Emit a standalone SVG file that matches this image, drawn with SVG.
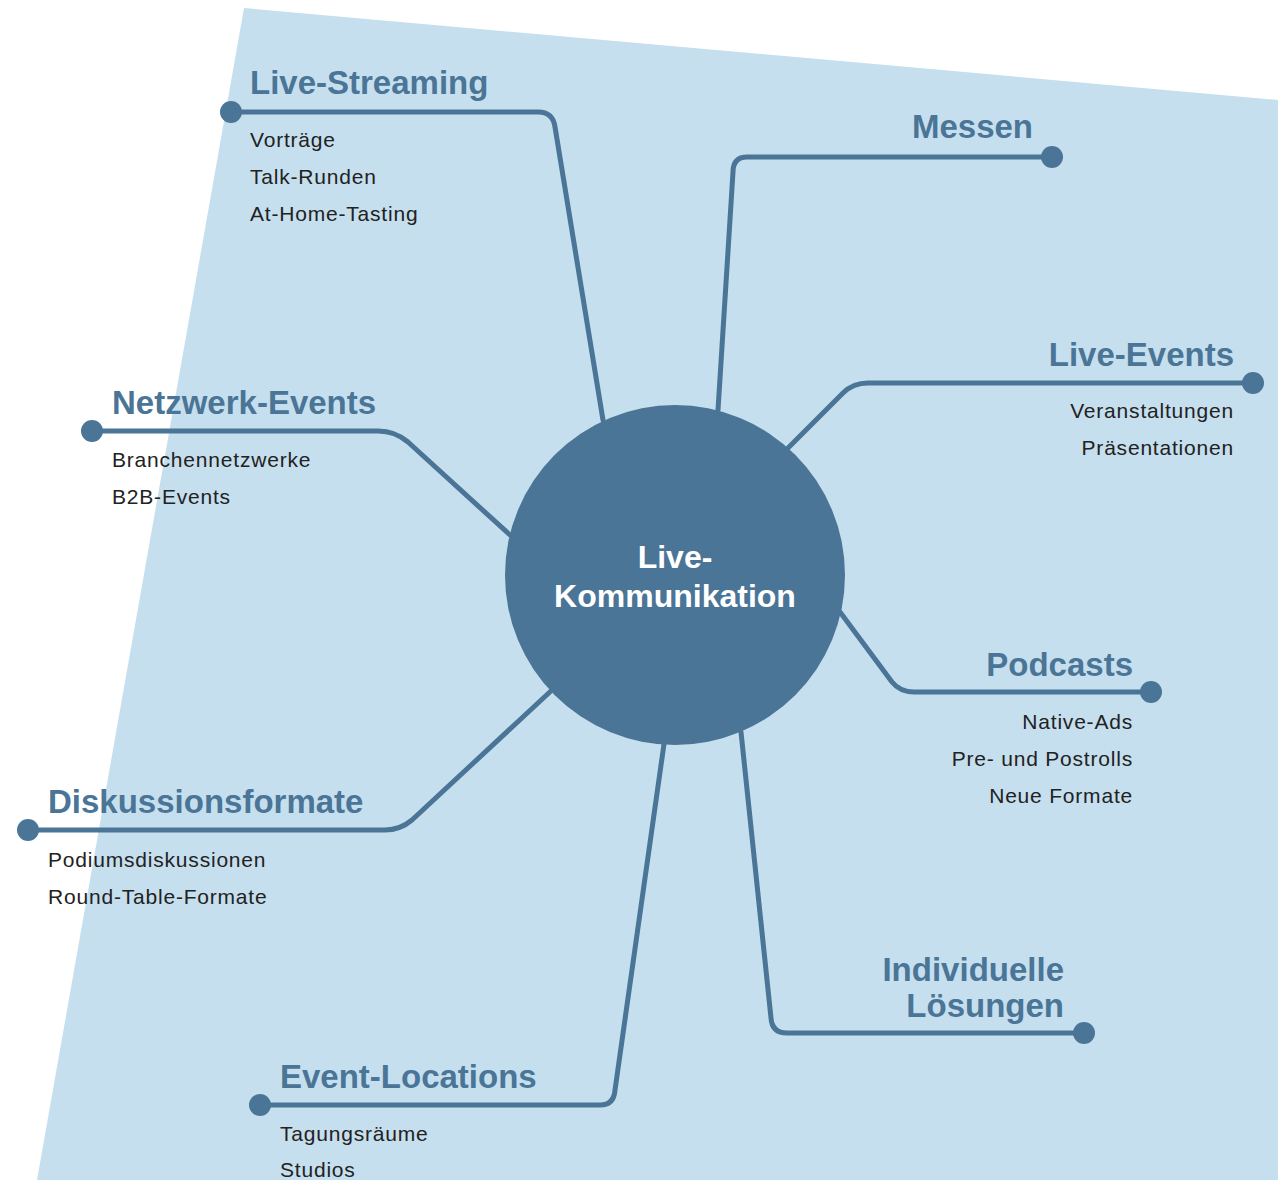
<svg xmlns="http://www.w3.org/2000/svg" width="1278" height="1180" viewBox="0 0 1278 1180">
<style>
.bg{fill:#c6dfee}
.con{fill:none;stroke:#4a7596;stroke-width:5;stroke-linecap:round;stroke-linejoin:round}
.dot{fill:#4a7596}
.t{font-family:"Liberation Sans",Arial,sans-serif;font-weight:bold;font-size:33px;fill:#4a7596}
.s{font-family:"Liberation Sans",Arial,sans-serif;font-size:21px;letter-spacing:0.8px;fill:#222}
.e{text-anchor:end}
.c{font-family:"Liberation Sans",Arial,sans-serif;font-weight:bold;font-size:32px;fill:#fff;text-anchor:middle}
</style>
<rect width="1278" height="1180" fill="#fff"/>
<polygon class="bg" points="244,8 1278,100 1278,1180 37,1180"/>
<g id="connectors">
<path class="con" d="M231,112 H538 Q553,112 555,127 L603,420"/>
<path class="con" d="M1052,157 H747 Q733,157 733,172 L718,410"/>
<path class="con" d="M1253,383 H868 Q853,383 843,393 L788,448"/>
<path class="con" d="M92,431 H378 Q395,431 408,442 L510,535"/>
<path class="con" d="M1151,692 H914 Q900,692 892,682 L840,612"/>
<path class="con" d="M28,830 H385 Q400,830 412,820 L552,690"/>
<path class="con" d="M260,1105 H600 Q614,1105 615,1090 L664,744"/>
<path class="con" d="M1084,1033 H787 Q772,1033 771,1018 L741,732"/>
</g>
<g id="center">
<circle cx="675" cy="575" r="170" fill="#4a7596"/>
<text class="c" x="675" y="568">Live-</text>
<text class="c" x="675" y="607">Kommunikation</text>
</g>
<g id="live-streaming">
<circle class="dot" cx="231" cy="112" r="11"/>
<text class="t" x="250" y="94">Live-Streaming</text>
<text class="s" x="250" y="147">Vorträge</text>
<text class="s" x="250" y="184">Talk-Runden</text>
<text class="s" x="250" y="221">At-Home-Tasting</text>
</g>
<g id="messen">
<circle class="dot" cx="1052" cy="157" r="11"/>
<text class="t e" x="1033" y="138">Messen</text>
</g>
<g id="live-events">
<circle class="dot" cx="1253" cy="383" r="11"/>
<text class="t e" x="1234" y="366">Live-Events</text>
<text class="s e" x="1234" y="418">Veranstaltungen</text>
<text class="s e" x="1234" y="455">Präsentationen</text>
</g>
<g id="netzwerk-events">
<circle class="dot" cx="92" cy="431" r="11"/>
<text class="t" x="112" y="414">Netzwerk-Events</text>
<text class="s" x="112" y="467">Branchennetzwerke</text>
<text class="s" x="112" y="504">B2B-Events</text>
</g>
<g id="podcasts">
<circle class="dot" cx="1151" cy="692" r="11"/>
<text class="t e" x="1133" y="676">Podcasts</text>
<text class="s e" x="1133" y="729">Native-Ads</text>
<text class="s e" x="1133" y="766">Pre- und Postrolls</text>
<text class="s e" x="1133" y="803">Neue Formate</text>
</g>
<g id="diskussionsformate">
<circle class="dot" cx="28" cy="830" r="11"/>
<text class="t" x="48" y="813">Diskussionsformate</text>
<text class="s" x="48" y="867">Podiumsdiskussionen</text>
<text class="s" x="48" y="904">Round-Table-Formate</text>
</g>
<g id="event-locations">
<circle class="dot" cx="260" cy="1105" r="11"/>
<text class="t" x="280" y="1088">Event-Locations</text>
<text class="s" x="280" y="1141">Tagungsräume</text>
<text class="s" x="280" y="1177">Studios</text>
</g>
<g id="individuelle-loesungen">
<circle class="dot" cx="1084" cy="1033" r="11"/>
<text class="t e" x="1064" y="981">Individuelle</text>
<text class="t e" x="1064" y="1017">Lösungen</text>
</g>
</svg>
